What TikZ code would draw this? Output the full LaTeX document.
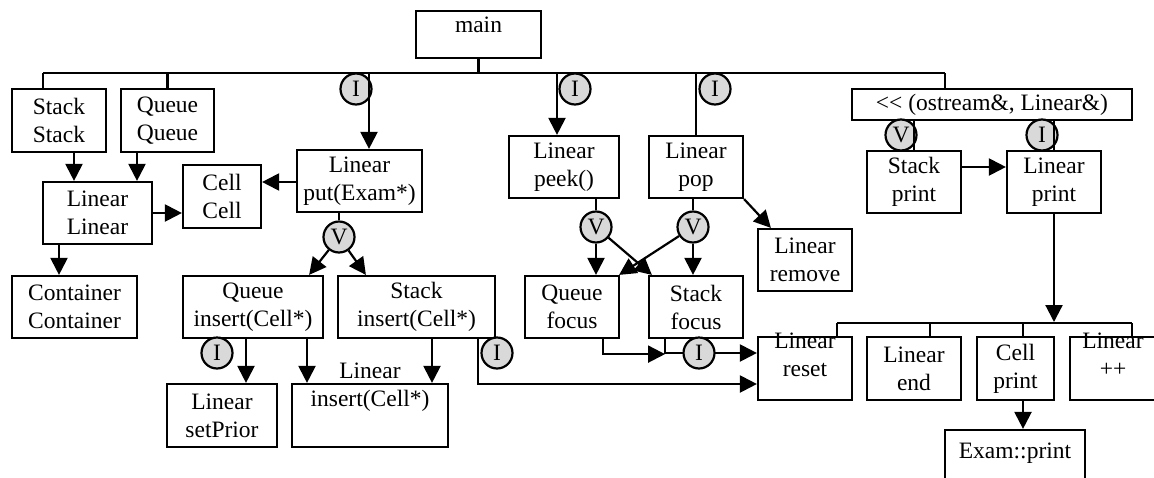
\documentclass[tikz,border=0pt]{standalone}
\usepackage{fontspec}
\setmainfont{Liberation Serif}
\usetikzlibrary{arrows.meta,calc}
\tikzset{
  every node/.style={font=\fontsize{23.5}{28}\selectfont},
  box/.style={draw, line width=2.2pt, inner sep=0pt, align=center, fill=white},
  txt/.style={inner sep=0pt, align=center},
  tag/.style={draw, circle, line width=2.2pt, fill=black!15, minimum size=31pt, inner sep=0pt},
  arr/.style={-{Triangle[length=17pt,width=17pt]}},
}
\begin{document}
\begin{tikzpicture}[x=1pt,y=-1pt,line width=2.2pt]
\useasboundingbox (0,0) rectangle (1154,477);
\clip (0,0) rectangle (1154,477);

% boxes
\node[box, minimum width=125pt, minimum height=47pt] (main) at (478.5,34.5) {};
\node[txt] (maintxt) at ($(main.center)+(0,-9.5)$) {main};
\node[box, minimum width=94pt, minimum height=63pt] (ss) at (59,120.5) {Stack\\Stack};
\node[box, minimum width=93pt, minimum height=63pt] (qq) at (167.5,120.5) {Queue\\Queue};
\node[box, minimum width=109pt, minimum height=62pt] (ll) at (97.5,213) {Linear\\Linear};
\node[box, minimum width=78pt, minimum height=63pt] (cc) at (222,196.5) {Cell\\Cell};
\node[box, minimum width=125pt, minimum height=62pt] (put) at (359.5,181) {Linear\\put(Exam*)};
\node[box, minimum width=110pt, minimum height=62pt] (peek) at (564,167) {Linear\\peek()};
\node[box, minimum width=94pt, minimum height=62pt] (pop) at (696,167) {Linear\\pop};
\node[box, minimum width=94pt, minimum height=62pt] (remove) at (805,260) {Linear\\remove};
\node[box, minimum width=280pt, minimum height=31pt] (ost) at (992,104.5) {{<}{<} (ostream\&, Linear\&)};
\node[box, minimum width=94pt, minimum height=62pt] (sprint) at (914,182) {Stack\\print};
\node[box, minimum width=94pt, minimum height=62pt] (lprint) at (1054,182) {Linear\\print};
\node[box, minimum width=125pt, minimum height=62pt] (cont) at (74.5,307) {Container\\Container};
\node[box, minimum width=140pt, minimum height=62pt] (qins) at (253,307) {Queue\\insert(Cell*)};
\node[box, minimum width=157pt, minimum height=62pt] (sins) at (416.5,307) {Stack\\insert(Cell*)};
\node[box, minimum width=110pt, minimum height=63pt] (setp) at (222,415.5) {Linear\\setPrior};
\node[box, minimum width=156pt, minimum height=63pt] (lins) at (370,415.5) {};
\node[box, minimum width=94pt, minimum height=62pt] (qfoc) at (572,307) {Queue\\focus};
\node[box, minimum width=94pt, minimum height=62pt] (sfoc) at (696,307) {Stack\\focus};
\node[box, minimum width=94pt, minimum height=63pt] (reset) at (805,368.5) {};
\node[box, minimum width=94pt, minimum height=63pt] (lend) at (914,368.5) {Linear\\end};
\node[box, minimum width=77pt, minimum height=63pt] (cprint) at (1015.5,368.5) {Cell\\print};
\node[box, minimum width=100pt, minimum height=63pt] (lpp) at (1120,368.5) {};
\node[box, minimum width=140pt, minimum height=60pt] (exam) at (1015,460) {};

\node[txt] (linstxt) at ($(lins.center)+(0,-28.5)$) {Linear\\insert(Cell*)};
\node[txt] (resettxt) at ($(reset.center)+(0,-14)$) {Linear\\reset};
\node[txt] (lpptxt) at ($(lpp.center)+(-7,-13.5)$) {Linear\\++};
\node[txt] (examtxt) at ($(exam.center)+(0,-7)$) {Exam::print};

% tags (drawn under the lines)
\node[tag] (i1) at (356,89) {I};
\node[tag] (i2) at (575,89) {I};
\node[tag] (i3) at (715,89) {I};
\node[tag] (v1) at (339,237) {V};
\node[tag] (i4) at (217,353) {I};
\node[tag] (i5) at (497,353) {I};
\node[tag] (v2) at (596,227) {V};
\node[tag] (v3) at (693,227) {V};
\node[tag] (v4) at (901,135) {V};
\node[tag] (i7) at (1042,135) {I};

% top bus
\coordinate (b1) at (43,73);
\coordinate (b2) at (945,73);
\coordinate (dput) at (369,73);
\coordinate (dpeek) at (557,73);
\draw (b1) -- (b2);
\draw (main.south) -- (main.south |- b1);
\draw (b1) -- (b1 |- ss.north);
\draw (qq.north |- b1) -- (qq.north);
\draw[arr] (dput) -- (dput |- put.north);
\draw[arr] (dpeek) -- (dpeek |- peek.north);
\draw (pop.north |- b1) -- (pop.north);
\draw (b2) -- (b2 |- ost.north);

% left part
\draw[arr] ($(ss.south)+(15,0)$) -- ($(ll.north)+(-23.5,0)$);
\draw[arr] ($(qq.south)+(-30.5,0)$) -- ($(ll.north)+(39.5,0)$);
\draw[arr] (ll.east) -- ($(cc.west)+(0,16.5)$);
\draw[arr] ($(put.west)+(0,1)$) -- ($(cc.east)+(0,-14.5)$);
\draw[arr] ($(ll.south)+(-38.5,0)$) -- ($(cont.north)+(-15.5,0)$);

% put -> insert
\draw (v1 |- put.south) -- (v1);
\draw[arr] (v1) -- ($(qins.north east)+(-15,0)$);
\draw[arr] (v1) -- ($(sins.north west)+(29,0)$);
\draw[arr] ($(qins.south)+(-7,0)$) -- ($(setp.north)+(24,0)$);
\draw[arr] ($(qins.south)+(54,0)$) -- ($(lins.north)+(-63,0)$);
\draw[arr] ($(sins.south)+(15.5,0)$) -- ($(lins.north)+(62,0)$);
\draw[arr] ($(sins.south)+(61.5,0)$) |- ($(reset.west)+(0,15.5)$);

% peek / pop
\draw (v2 |- peek.south) -- (v2);
\draw[arr] (v2) -- (v2 |- qfoc.north);
\draw[arr] (v2) -- ($(sfoc.north west)+(4,0)$);
\draw (v3 |- pop.south) -- (v3);
\draw[arr] (v3) -- (v3 |- sfoc.north);
\draw[arr] (v3) -- ($(qfoc.north east)+(-1,0)$);
\draw[arr] (pop.south east) -- ($(remove.north west)+(14,0)$);
\coordinate (j) at ($(sfoc.south)+(-31,15)$);
\draw[arr] ($(qfoc.south)+(31,0)$) |- (j);
\draw[arr] ($(sfoc.south)+(-31,0)$) |- ($(reset.west)+(0,-15.5)$);
\node[tag] (i6) at (699,353) {I};

% right part
\draw (sprint.north) -- (sprint.north |- ost.south);
\draw (lprint.north) -- (lprint.north |- ost.south);
\draw[arr] ($(sprint.east)+(0,-15)$) -- ($(lprint.west)+(0,-15)$);
\coordinate (b3) at (837,323);
\coordinate (b4) at (1132,323);
\draw (b3) -- (b4);
\draw[arr] (lprint.south) -- ($(lprint.south |- b3)+(0,-1)$);
\draw (b3) -- (b3 |- reset.north);
\draw ($(lend.north)+(16,0)$) -- ($(lend.north)+(16,-14)$);
\draw ($(cprint.north)+(7.5,0)$) -- ($(cprint.north)+(7.5,-14)$);
\draw (b4) -- (b4 |- lpp.north);
\draw[arr] ($(cprint.south)+(7.5,0)$) -- ($(exam.north)+(8,0)$);
\end{tikzpicture}
\end{document}
